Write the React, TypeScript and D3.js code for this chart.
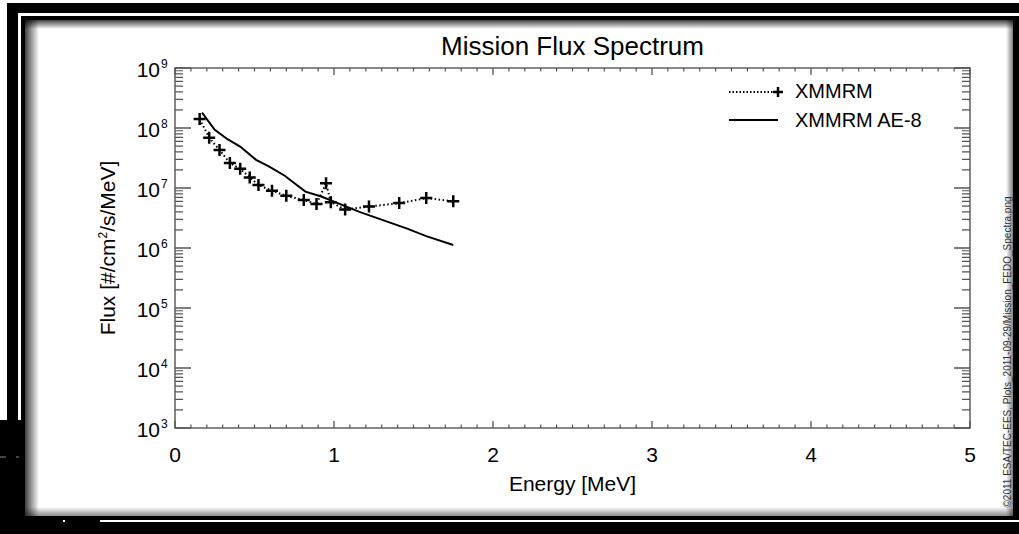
import React from "react";
import * as d3 from "d3";

// XMMRM measured spectrum (energy in MeV, flux in #/cm²/s/MeV)
const xmmrmEnergy = [0.155, 0.215, 0.28, 0.345, 0.41, 0.47, 0.525, 0.61, 0.70, 0.81, 0.89, 0.95, 0.98, 1.07, 1.22, 1.41, 1.58, 1.75];
const xmmrmFlux = [1.41e8, 6.9e7, 4.3e7, 2.6e7, 2.1e7, 1.5e7, 1.12e7, 9.0e6, 7.4e6, 6.3e6, 5.4e6, 1.2e7, 5.8e6, 4.4e6, 4.9e6, 5.6e6, 6.8e6, 6.0e6];

// XMMRM AE-8 model spectrum
const ae8Energy = [0.17, 0.25, 0.33, 0.41, 0.51, 0.59, 0.69, 0.82, 0.92, 1.16, 1.46, 1.58, 1.75];
const ae8Flux = [1.8e8, 9.3e7, 6.5e7, 4.9e7, 2.95e7, 2.3e7, 1.6e7, 8.7e6, 7.2e6, 4.0e6, 2.1e6, 1.58e6, 1.12e6];

const xTicks = [0, 1, 2, 3, 4, 5];
const yExponents = [3, 4, 5, 6, 7, 8, 9];
const legendLabels = ["XMMRM", "XMMRM AE-8"];

const W = 1019;
const H = 534;
const FONT = "'Liberation Sans', Arial, Helvetica, sans-serif";
const AXIS = "#555";

export default function App() {
  const x = d3.scaleLinear().domain([0, 5]).range([175, 970]);
  const y = d3.scaleLog().domain([1e3, 1e9]).range([428, 68]);
  const [x0, x1] = x.range();
  const [yb, yt] = y.range();

  const xmmrm = xmmrmEnergy.map((e, i) => [e, xmmrmFlux[i]] as [number, number]);
  const ae8 = ae8Energy.map((e, i) => [e, ae8Flux[i]] as [number, number]);
  const line = d3
    .line<[number, number]>()
    .x((d) => x(d[0]))
    .y((d) => y(d[1]));

  // tick sets
  const xMinor = d3.range(0, 50).map((i) => i / 10).filter((v) => Math.abs(v - Math.round(v)) > 1e-6);
  const yMinor: number[] = [];
  for (let e = 3; e < 9; e++) for (let m = 2; m <= 9; m++) yMinor.push(m * Math.pow(10, e));

  const plus = (cx: number, cy: number, r: number, key: string) => (
    <path key={key} d={`M${cx - r},${cy}H${cx + r}M${cx},${cy - r}V${cy + r}`} stroke="#000" strokeWidth={2.5} />
  );

  return (
    <svg width={W} height={H} style={{ position: "absolute", left: 0, top: 0, display: "block" }} fontFamily={FONT}>
      <defs>
        <linearGradient id="shL" x1="0" x2="1" y1="0" y2="0">
          <stop offset="0" stopColor="#000" stopOpacity={0.75} />
          <stop offset="1" stopColor="#000" stopOpacity={0} />
        </linearGradient>
        <linearGradient id="shR" x1="1" x2="0" y1="0" y2="0">
          <stop offset="0" stopColor="#000" stopOpacity={0.5} />
          <stop offset="1" stopColor="#000" stopOpacity={0} />
        </linearGradient>
        <linearGradient id="shT" x1="0" x2="0" y1="0" y2="1">
          <stop offset="0" stopColor="#000" stopOpacity={0.75} />
          <stop offset="1" stopColor="#000" stopOpacity={0} />
        </linearGradient>
        <linearGradient id="shB" x1="0" x2="0" y1="1" y2="0">
          <stop offset="0" stopColor="#000" stopOpacity={0.45} />
          <stop offset="1" stopColor="#000" stopOpacity={0} />
        </linearGradient>
      </defs>

      {/* window frame */}
      <rect x={0} y={0} width={W} height={H} fill="#000" />
      <rect x={0} y={0} width={W} height={3} fill="#fff" />
      <rect x={0} y={0} width={7} height={420} fill="#fff" />
      <rect x={18} y={13} width={W - 18} height={3} fill="#fff" />
      <rect x={18} y={13} width={3} height={407} fill="#fff" />
      <rect x={100} y={520} width={W - 100} height={2} fill="#fff" />
      <rect x={63} y={520} width={2} height={2} fill="#fff" />
      <path d="M0,457H6M16,457H19" stroke="#888" strokeWidth={1} />

      {/* panel with inset shadow */}
      <rect x={25} y={20} width={988} height={496} fill="#fff" />
      <rect x={25} y={20} width={14} height={496} fill="url(#shL)" />
      <rect x={1006} y={20} width={7} height={496} fill="url(#shR)" />
      <rect x={25} y={20} width={988} height={9} fill="url(#shT)" />
      <rect x={25} y={507} width={988} height={9} fill="url(#shB)" />

      {/* title */}
      <text x={(x0 + x1) / 2} y={55} textAnchor="middle" fontSize={26} fill="#000">
        Mission Flux Spectrum
      </text>

      {/* plot box */}
      <rect x={x0} y={yt} width={x1 - x0} height={yb - yt} fill="none" stroke={AXIS} strokeWidth={1.4} />

      {/* x ticks, bottom and top */}
      {xTicks.map((t) => (
        <path key={`xM${t}`} d={`M${x(t)},${yb}V${yb - 7}M${x(t)},${yt}V${yt + 7}`} stroke={AXIS} strokeWidth={1.3} />
      ))}
      {xMinor.map((t) => (
        <path key={`xm${t}`} d={`M${x(t)},${yb}V${yb - 3.5}M${x(t)},${yt}V${yt + 3.5}`} stroke={AXIS} strokeWidth={1.2} />
      ))}
      {xTicks.map((t) => (
        <text key={`xl${t}`} x={x(t)} y={462} textAnchor="middle" fontSize={21} fill="#000">
          {t}
        </text>
      ))}
      <text x={(x0 + x1) / 2} y={491} textAnchor="middle" fontSize={21} fill="#000">
        Energy [MeV]
      </text>

      {/* y ticks, left and right */}
      {yExponents.map((e) => {
        const v = Math.pow(10, e);
        return (
          <path key={`yM${e}`} d={`M${x0},${y(v)}H${x0 + 16}M${x1},${y(v)}H${x1 - 16}`} stroke={AXIS} strokeWidth={1.3} />
        );
      })}
      {yMinor.map((v) => (
        <path key={`ym${v}`} d={`M${x0},${y(v)}H${x0 + 8}M${x1},${y(v)}H${x1 - 8}`} stroke={AXIS} strokeWidth={1.2} />
      ))}
      {yExponents.map((e) => {
        const ty = y(Math.pow(10, e));
        return (
          <g key={`yl${e}`}>
            <text x={160} y={ty + 9} textAnchor="end" fontSize={21} fill="#000">
              10
            </text>
            <text x={161} y={ty} fontSize={12} fill="#000">
              {e}
            </text>
          </g>
        );
      })}
      <text transform={`translate(115,${(yt + yb) / 2}) rotate(-90)`} textAnchor="middle" fontSize={21} fill="#000">
        Flux [#/cm<tspan fontSize={12} dy={-8}>2</tspan>
        <tspan dy={8}>/s/MeV]</tspan>
      </text>

      {/* AE-8 model, solid */}
      <path d={line(ae8) || ""} fill="none" stroke="#000" strokeWidth={2} />

      {/* XMMRM, dotted with plus markers */}
      <path d={line(xmmrm) || ""} fill="none" stroke="#000" strokeWidth={2} strokeDasharray="1.5 2.5" />
      {xmmrm.map((d, i) => plus(x(d[0]), y(d[1]), 6, `p${i}`))}

      {/* legend */}
      <path d="M729,92H774" stroke="#000" strokeWidth={2} strokeDasharray="1.5 2" />
      {plus(778, 92, 5, "lg")}
      <text x={795} y={98} fontSize={20} fill="#000">
        {legendLabels[0]}
      </text>
      <path d="M729,120H778" stroke="#000" strokeWidth={2} />
      <text x={795} y={127} fontSize={20} fill="#000">
        {legendLabels[1]}
      </text>

      {/* credit line */}
      <text transform="translate(1011,352) rotate(-90)" textAnchor="middle" fontSize={10} fill="#333">
        ©2011 ESA/TEC-EES, Plots_2011-09-29/Mission_FEDO_Spectra.png
      </text>
    </svg>
  );
}
